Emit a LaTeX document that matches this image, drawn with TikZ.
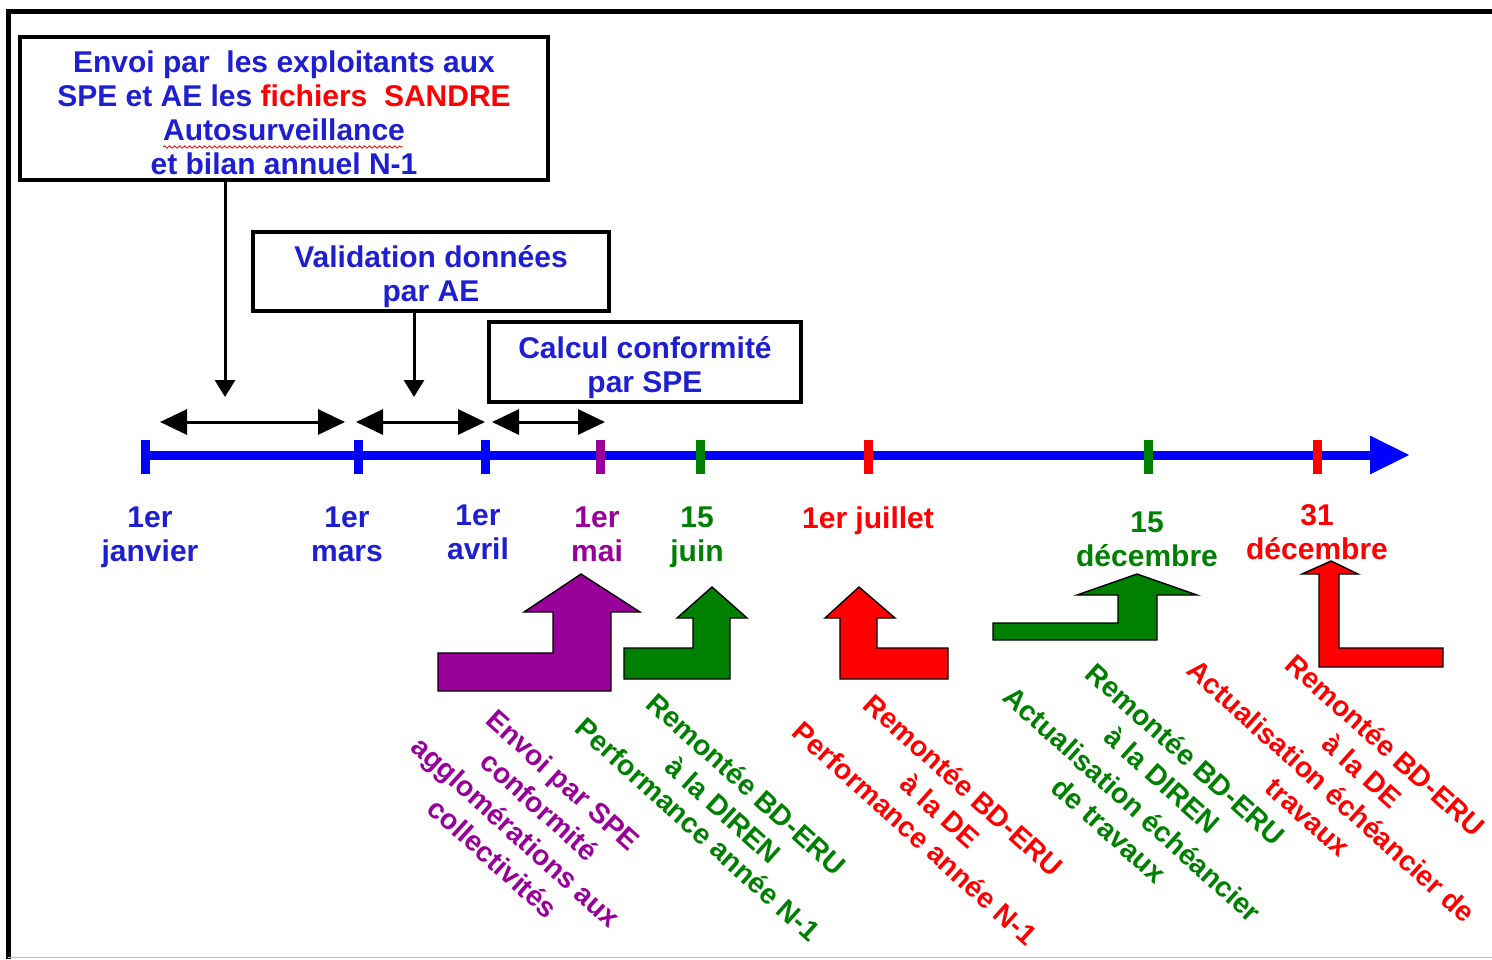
\documentclass[tikz,border=0pt]{standalone}
\usepackage{fontspec}
\setmainfont{Liberation Sans}
\usetikzlibrary{arrows.meta,decorations.pathmorphing}
\definecolor{tblue}{RGB}{0,0,255}
\definecolor{txtblue}{RGB}{30,30,210}
\definecolor{ppurple}{RGB}{153,0,153}
\definecolor{pgreen}{RGB}{0,128,0}
\definecolor{pred}{RGB}{255,0,0}
\begin{document}
\begin{tikzpicture}[x=0.5pt,y=-0.5pt,
  lbl/.style={font=\fontsize{15}{17}\selectfont\bfseries, align=center, inner sep=0pt},
  rlbl/.style={font=\fontsize{14.2}{17.5}\selectfont\bfseries, align=center, inner sep=0pt, rotate=-42},
  boxn/.style={draw, line width=1.8pt, inner sep=0pt},
  tickm/.style={minimum width=4.5pt, minimum height=17pt, inner sep=0pt, draw=none},
  bent/.style={draw=black, line width=0.7pt, line join=miter},
  darrow/.style={line width=1.5pt, {Triangle[length=13.5pt,width=12.5pt]}-{Triangle[length=13.5pt,width=12.5pt]}},
  varrow/.style={line width=1.5pt, -{Triangle[length=8.5pt,width=10pt]}},
]
\useasboundingbox (0,0) rectangle (1492,959);
\fill[white] (0,0) rectangle (1492,959);
% frame
\draw[line width=2.5pt] (8,959) -- (8,11) -- (1492,11);
\draw[gray!50, line width=0.7pt] (8,957.5) -- (1492,957.5);

% boxes
\node[boxn, minimum width=264pt, minimum height=71.5pt] (box1) at (284,108.5) {};
\node[lbl, text=txtblue] (box1t) at (284,112.5)
  {Envoi par\ \ les exploitants aux\\SPE et AE les \textcolor{pred}{fichiers\ \ SANDRE}\\Autosurveillance\\et bilan annuel N-1};
\draw[pred, line width=0.4pt, decorate, decoration={snake, amplitude=0.6pt, segment length=2.5pt}] (163,147) -- (403,147);
\node[boxn, minimum width=178pt, minimum height=39.5pt] (box2) at (431,271.5) {};
\node[lbl, text=txtblue] (box2t) at (431,277) {Validation données\\par AE};
\node[boxn, minimum width=156pt, minimum height=40pt] (box3) at (645,362) {};
\node[lbl, text=txtblue] (box3t) at (645,368) {Calcul conformité\\par SPE};

% vertical arrows
\coordinate (v1) at (225,397);
\coordinate (v2) at (414,397);
\draw[varrow] (box1.south -| v1) -- (v1);
\draw[varrow] (box2.south -| v2) -- (v2);

% double arrows
\coordinate (d1a) at (160,422); \coordinate (d1b) at (345,422);
\coordinate (d2a) at (356,422); \coordinate (d2b) at (485,422);
\coordinate (d3a) at (492,422); \coordinate (d3b) at (605,422);
\draw[darrow] (d1a) -- (d1b);
\draw[darrow] (d2a) -- (d2b);
\draw[darrow] (d3a) -- (d3b);

% timeline
\coordinate (tl1) at (1410,455);
\node[tickm] (m1) at (145,457) {};
\draw[tblue, line width=4.5pt, -{Triangle[length=20pt,width=18pt]}] (m1.center |- tl1) -- (tl1);
\node[tickm, fill=tblue] at (145,457) {};
\node[tickm, fill=tblue] (m2) at (358,457) {};
\node[tickm, fill=tblue] (m3) at (485,457) {};
\node[tickm, fill=ppurple] (m4) at (600,457) {};
\node[tickm, fill=pgreen] (m5) at (700,457) {};
\node[tickm, fill=pred] (m6) at (868,457) {};
\node[tickm, fill=pgreen] (m7) at (1148,457) {};
\node[tickm, fill=pred] (m8) at (1317,457) {};

% date labels
\node[lbl, text=txtblue] (l1) at (150,537) {1er\\janvier};
\node[lbl, text=txtblue] (l2) at (347,534) {1er\\mars};
\node[lbl, text=txtblue] (l3) at (478,532) {1er\\avril};
\node[lbl, text=ppurple] (l4) at (597,534) {1er\\mai};
\node[lbl, text=pgreen] (l5) at (697,537) {15\\juin};
\node[lbl, text=pred] (l6) at (868,521) {1er juillet};
\node[lbl, text=pgreen] (l7) at (1147,539) {15\\décembre};
\node[lbl, text=pred] (l8) at (1317,532) {31\\décembre};

% bent arrows
\filldraw[bent, fill=ppurple] (438,653) -- (553,653) -- (553,612) -- (524,612) -- (581,574) -- (640,612) -- (611,612) -- (611,691) -- (438,691) -- cycle;
\filldraw[bent, fill=pgreen] (624,648) -- (693,648) -- (693,618) -- (677,618) -- (712,587) -- (747,618) -- (730,618) -- (730,679) -- (624,679) -- cycle;
\filldraw[bent, fill=pred] (840,679) -- (840,618) -- (825,618) -- (859,587) -- (895,618) -- (877,618) -- (877,648) -- (948,648) -- (948,679) -- cycle;
\filldraw[bent, fill=pgreen] (993,623) -- (1118,623) -- (1118,595) -- (1077,595) -- (1137,574) -- (1197,595) -- (1157,595) -- (1157,640) -- (993,640) -- cycle;
\filldraw[bent, fill=pred] (1319,667) -- (1319,574) -- (1302,574) -- (1331,561) -- (1358,574) -- (1339,574) -- (1339,648) -- (1443,648) -- (1443,667) -- cycle;

% rotated labels
\node[rlbl, text=ppurple] (r1) at (528,819) {Envoi par SPE\\conformité\\agglomérations aux\\collectivités};
\node[rlbl, text=pgreen] (r2) at (698,829) {Performance année N-1};
\node[rlbl, text=pgreen] (r3) at (735,797) {Remontée BD-ERU\\à la DIREN};
\node[rlbl, text=pred] (r4) at (915,833) {Performance année N-1};
\node[rlbl, text=pred] (r5) at (952,798) {Remontée BD-ERU\\à la DE};
\node[rlbl, text=pgreen] (r6) at (1121,817) {Actualisation échéancier\\de travaux};
\node[rlbl, text=pgreen] (r7) at (1174,767) {Remontée BD-ERU\\à la DIREN};
\node[rlbl, text=pred] (r8) at (1320,804) {Actualisation échéancier de\\travaux};
\node[rlbl, text=pred] (r9) at (1374,758) {Remontée BD-ERU\\à la DE};
\end{tikzpicture}
\end{document}
